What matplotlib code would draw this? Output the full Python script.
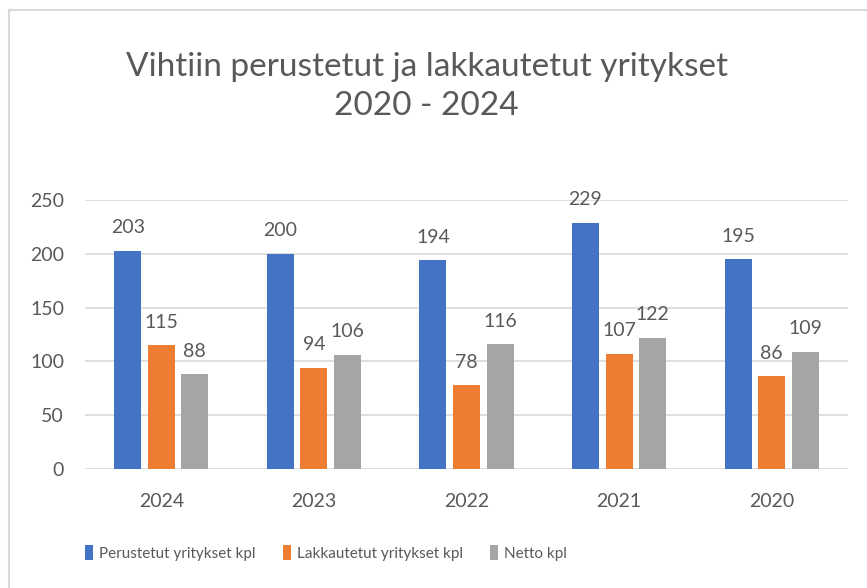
import matplotlib.pyplot as plt
import numpy as np
from matplotlib.lines import Line2D

vuodet = ['2024', '2023', '2022', '2021', '2020']
perustetut = [203, 200, 194, 229, 195]
lakkautetut = [115, 94, 78, 107, 86]
netto = [88, 106, 116, 122, 109]
sarjat = ['Perustetut yritykset kpl', 'Lakkautetut yritykset kpl', 'Netto kpl']
varit = ['#4472C4', '#ED7D31', '#A5A5A5']

plt.rcParams['font.family'] = ['Lato', 'DejaVu Sans']
teksti = '#595959'

fig = plt.figure(figsize=(8.67, 5.88), dpi=100)
ax = fig.add_axes([0.098, 0.2024, 0.88, 0.4576])

x = np.arange(len(vuodet))
leveys = 0.177
askel = 0.22
for i, (arvot, nimi, vari) in enumerate(zip([perustetut, lakkautetut, netto], sarjat, varit)):
    palkit = ax.bar(x + (i - 1) * askel, arvot, width=leveys, color=vari, label=nimi, zorder=3)
    for p, v in zip(palkit, arvot):
        ax.annotate(str(v), (p.get_x() + p.get_width() / 2, v), xytext=(0, 16.5),
                    textcoords='offset points', ha='center', va='center',
                    fontsize=14, color=teksti, zorder=4)

ax.set_xlim(-0.5, len(vuodet) - 0.5)
ax.set_ylim(0, 250)
ax.set_yticks(range(0, 251, 50))
ax.set_xticks(x)
ax.set_xticklabels(vuodet)
ax.grid(axis='y', color='#D9D9D9', linewidth=1.2, zorder=0)
for s in ax.spines.values():
    s.set_visible(False)
ax.tick_params(axis='both', length=0, labelsize=14, labelcolor=teksti)
ax.tick_params(axis='y', pad=15)
ax.tick_params(axis='x', pad=17)

fig.text(0.492, 0.853, 'Vihtiin perustetut ja lakkautetut yritykset\n2020 - 2024',
         ha='center', va='center', fontsize=24, color=teksti, linespacing=1.35)

leg = fig.legend(loc='center', bbox_to_anchor=(0.376, 0.06), ncol=3, frameon=False,
                 fontsize=11, labelcolor=teksti, handlelength=0.55, handleheight=1.15,
                 handletextpad=0.4, columnspacing=1.75)

# kaavion reunaviiva
fig.add_artist(Line2D([9 / 867, 9 / 867], [0, 1 - 10 / 588], color='#D9D9D9', linewidth=1.5))
fig.add_artist(Line2D([9 / 867, 1], [1 - 10 / 588, 1 - 10 / 588], color='#D9D9D9', linewidth=1.5))

plt.savefig('out.png', dpi=100)
